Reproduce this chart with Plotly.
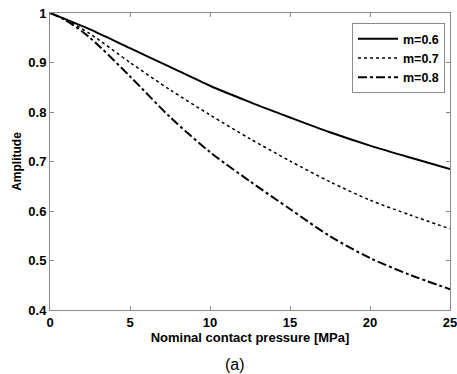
import plotly.graph_objects as go

pressure = [0, 1, 2.5, 5, 7.5, 10, 12.5, 15, 17.5, 20, 22.5, 25]
amp_m06 = [1.0, 0.987, 0.967, 0.929, 0.891, 0.853, 0.820, 0.789, 0.759, 0.732, 0.708, 0.685]
amp_m07 = [1.0, 0.986, 0.958, 0.900, 0.845, 0.794, 0.746, 0.701, 0.659, 0.622, 0.592, 0.564]
amp_m08 = [1.0, 0.985, 0.950, 0.872, 0.790, 0.719, 0.660, 0.604, 0.549, 0.505, 0.471, 0.442]
series_names = ["m=0.6", "m=0.7", "m=0.8"]
x_ticks = [0, 5, 10, 15, 20, 25]
y_ticks = [0.4, 0.5, 0.6, 0.7, 0.8, 0.9, 1.0]
y_tick_text = ["0.4", "0.5", "0.6", "0.7", "0.8", "0.9", "1"]

fig = go.Figure()
styles = [("solid", 2), ("dot", 1.5), ("dashdot", 2)]
for name, ys, (dash, w) in zip(series_names, [amp_m06, amp_m07, amp_m08], styles):
    fig.add_trace(go.Scatter(x=pressure, y=ys, mode="lines", name=name,
                             line=dict(color="black", width=w, dash=dash, shape="spline",
                                       smoothing=0.8)))

font = "Liberation Sans, Arial, sans-serif"
axis_common = dict(showgrid=False, zeroline=False, showline=True, linecolor="#8a8a8a",
                   linewidth=1, mirror="allticks", ticks="inside", ticklen=4,
                   tickcolor="#8a8a8a", ticklabeloverflow="allow", automargin=False,
                   tickfont=dict(family=font, size=13, color="black", weight="bold"))
fig.update_layout(
    width=457, height=374,
    margin=dict(l=50, r=7, t=13, b=64),
    paper_bgcolor="white", plot_bgcolor="white",
    xaxis=dict(range=[0, 25], tickvals=x_ticks,
               title=dict(text="Nominal contact pressure [MPa]", standoff=0,
                          font=dict(family=font, size=13, color="black", weight="bold")),
               **axis_common),
    yaxis=dict(range=[0.4, 1.0], tickvals=y_ticks, ticktext=y_tick_text,
               title=dict(text="Amplitude", standoff=4,
                          font=dict(family=font, size=12, color="black", weight="bold")),
               **axis_common),
    legend=dict(x=0.9875, y=0.966, xanchor="right", yanchor="top",
                bordercolor="#8a8a8a", borderwidth=1, bgcolor="white",
                font=dict(family=font, size=12.5, color="black", weight="bold"),
                tracegroupgap=0, itemwidth=40),
    showlegend=True,
)
fig.add_annotation(text="(a)", xref="paper", yref="paper", x=0.4625, y=-0.185,
                   xanchor="center", yanchor="middle", showarrow=False,
                   font=dict(family=font, size=16, color="black"))
fig.write_html("out.html", config={"displayModeBar": False},
               post_script="document.body.style.margin='0';document.body.style.overflow='hidden';")
